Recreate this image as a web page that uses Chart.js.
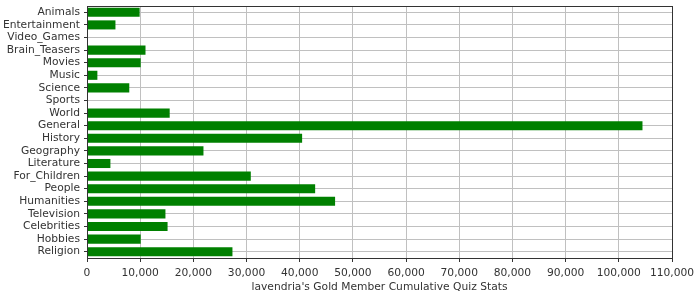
<!DOCTYPE html>
<html>
<head>
<meta charset="utf-8">
<script src="https://cdn.jsdelivr.net/npm/chart.js@4"></script>
<style>
  html, body { margin: 0; padding: 0; background: #fff; }
  #wrap { width: 700px; height: 300px; }
</style>
</head>
<body>
<div id="wrap"><canvas id="chart" width="700" height="300"></canvas></div>
<script>
const categories = [
    "Animals", "Entertainment", "Video_Games", "Brain_Teasers", "Movies",
    "Music", "Science", "Sports", "World", "General",
    "History", "Geography", "Literature", "For_Children", "People",
    "Humanities", "Television", "Celebrities", "Hobbies", "Religion"
];
const quizScores = [
    9900, 5350, 0, 11000, 10100,
    1950, 7950, 0, 15550, 104450,
    40450, 21900, 4400, 30800, 42900,
    46650, 14750, 15150, 10100, 27350
];
const xTickMin = 0;
const xTickMax = 110000;
const xTickStep = 10000;
const axisTitle = "lavendria's Gold Member Cumulative Quiz Stats";

// draws the dark frame round the plot area (top and right sides too)
const frame = {
    id: "frame",
    afterDatasetsDraw(chart) {
        const { ctx, chartArea: a } = chart;
        ctx.save();
        ctx.strokeStyle = "#333";
        ctx.lineWidth = 1;
        ctx.strokeRect(Math.round(a.left) + 0.5, Math.round(a.top) + 0.5,
            Math.round(a.right - a.left), Math.round(a.bottom - a.top));
        ctx.restore();
    }
};

const font = { family: "'DejaVu Sans', sans-serif", size: 10.7 };

new Chart(document.getElementById("chart"), {
    type: "bar",
    data: {
        labels: categories,
        datasets: [{
            label: "Quiz Stats",
            data: quizScores,
            backgroundColor: "#008000",
            borderWidth: 0,
            barPercentage: 0.72,
            categoryPercentage: 1
        }]
    },
    options: {
        indexAxis: "y",
        responsive: false,
        animation: false,
        layout: { padding: { top: 6, right: 28, left: 0, bottom: 6 } },
        plugins: {
            legend: { display: false },
            tooltip: { enabled: false }
        },
        scales: {
            x: {
                min: xTickMin,
                max: xTickMax,
                ticks: {
                    stepSize: xTickStep,
                    color: "#333",
                    font: font,
                    padding: 5,
                    maxRotation: 0,
                    callback: (v) => v.toLocaleString("en-US")
                },
                grid: { color: "#c0c0c0", tickColor: "#333", tickLength: 4 },
                border: { color: "#333" },
                title: {
                    display: true,
                    text: axisTitle,
                    color: "#333",
                    font: font,
                    padding: { top: 0, bottom: 0 }
                },
                afterFit: (scale) => { scale.height = 36; }
            },
            y: {
                ticks: { color: "#333", font: font, padding: 4, autoSkip: false },
                grid: { color: "#c0c0c0", tickColor: "#333", tickLength: 3, offset: false },
                border: { color: "#333" },
                afterFit: (scale) => {
                    scale.width = 87;
                    scale.paddingTop = 0;
                    scale.paddingBottom = 0;
                }
            }
        }
    },
    plugins: [frame]
});
</script>
</body>
</html>
